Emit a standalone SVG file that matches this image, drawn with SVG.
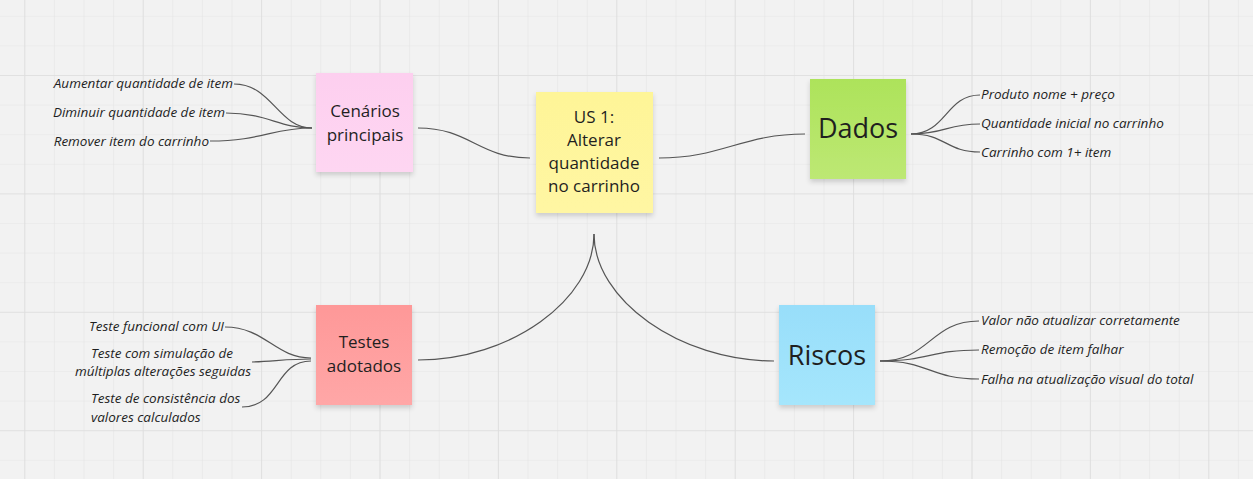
<svg xmlns="http://www.w3.org/2000/svg" width="1253" height="479" viewBox="0 0 1253 479">
<style>
.leaf{font-family:"Open Sans","Noto Sans","DejaVu Sans",sans-serif;font-style:italic;font-size:13.5px;fill:#1f1f1f}
.st{font-family:"Open Sans","Noto Sans","DejaVu Sans",sans-serif;font-size:17px;fill:#1f1f1f;text-anchor:middle}
.big{font-family:"Open Sans","Noto Sans","DejaVu Sans",sans-serif;font-size:27px;fill:#1f1f1f;text-anchor:middle}
.con{fill:none;stroke:#555;stroke-width:1.2}
</style>
<defs>
<pattern id="minor" x="24.3" y="-43.4" width="29.6" height="29.6" patternUnits="userSpaceOnUse">
<path d="M0,0H29.6M0,0V29.6" fill="none" stroke="#e5e5e5" stroke-width="1.2"/>
</pattern>
<pattern id="major" x="24.3" y="-43.4" width="118.4" height="118.4" patternUnits="userSpaceOnUse">
<path d="M0,0H118.4M0,0V118.4" fill="none" stroke="#dedede" stroke-width="1.6"/>
</pattern>
<filter id="sh" x="-20%" y="-20%" width="140%" height="150%">
<feDropShadow dx="0" dy="3" stdDeviation="2.5" flood-color="#000" flood-opacity="0.16"/>
</filter>
<linearGradient id="gPink" x1="0" y1="0" x2="0" y2="1"><stop offset="0" stop-color="#fdcfef"/><stop offset="1" stop-color="#fed6f2"/></linearGradient>
<linearGradient id="gYel" x1="0" y1="0" x2="0" y2="1"><stop offset="0" stop-color="#fef597"/><stop offset="1" stop-color="#fff6a3"/></linearGradient>
<linearGradient id="gGrn" x1="0" y1="0" x2="0" y2="1"><stop offset="0" stop-color="#ade35a"/><stop offset="1" stop-color="#bde874"/></linearGradient>
<linearGradient id="gRed" x1="0" y1="0" x2="0" y2="1"><stop offset="0" stop-color="#fe9898"/><stop offset="1" stop-color="#ffa7a7"/></linearGradient>
<linearGradient id="gBlu" x1="0" y1="0" x2="0" y2="1"><stop offset="0" stop-color="#98defa"/><stop offset="1" stop-color="#a5e6fc"/></linearGradient>
</defs>
<rect width="1253" height="479" fill="#f2f2f2"/>
<rect width="1253" height="479" fill="url(#minor)"/>
<rect width="1253" height="479" fill="url(#major)"/>

<g id="connectors">
<path class="con" d="M418,128 C470,128 478,158 530,158"/>
<path class="con" d="M659,158 C722,158 742,134 805,134"/>
<path class="con" d="M594,234 C594,300 510,360 418,360"/>
<path class="con" d="M594,234 C594,300 680,361 774,361"/>
<path class="con" d="M234,84 C272,84 278,128 312,128"/>
<path class="con" d="M226,113 C268,113 278,128 312,128"/>
<path class="con" d="M210,141 C262,141 272,128 312,128"/>
<path class="con" d="M911,134 C946,134 946,95 980,95"/>
<path class="con" d="M911,134 C946,134 946,124 980,124"/>
<path class="con" d="M911,134 C946,134 946,152 980,152"/>
<path class="con" d="M880,361 C930,361 930,321 979,321"/>
<path class="con" d="M880,361 C930,361 930,350 979,350"/>
<path class="con" d="M880,361 C930,361 930,379 979,379"/>
<path class="con" d="M225,327 C265,327 275,358 311,358"/>
<path class="con" d="M252,362 C275,361 290,359 311,359"/>
<path class="con" d="M242,407 C280,407 275,361 311,361"/>
</g>

<g id="cenarios">
<rect x="316" y="73" width="97" height="99" fill="url(#gPink)" filter="url(#sh)"/>
<text class="st" x="365" y="117">Cenários</text>
<text class="st" x="365" y="141">principais</text>
</g>
<g id="us1">
<rect x="536" y="92" width="117" height="121" fill="url(#gYel)" filter="url(#sh)"/>
<text class="st" x="594" y="123">US 1:</text>
<text class="st" x="594" y="146">Alterar</text>
<text class="st" x="594" y="169">quantidade</text>
<text class="st" x="594" y="192">no carrinho</text>
</g>
<g id="dados">
<rect x="810" y="79" width="96" height="100" fill="url(#gGrn)" filter="url(#sh)"/>
<text class="big" x="858" y="138">Dados</text>
</g>
<g id="testes">
<rect x="316" y="305" width="96" height="100" fill="url(#gRed)" filter="url(#sh)"/>
<text class="st" x="364" y="348">Testes</text>
<text class="st" x="364" y="372">adotados</text>
</g>
<g id="riscos">
<rect x="779" y="305" width="96" height="100" fill="url(#gBlu)" filter="url(#sh)"/>
<text class="big" x="827" y="365">Riscos</text>
</g>

<g id="leaves-cenarios">
<text class="leaf" x="233" y="88" text-anchor="end">Aumentar quantidade de item</text>
<text class="leaf" x="225" y="117" text-anchor="end">Diminuir quantidade de item</text>
<text class="leaf" x="209" y="146" text-anchor="end">Remover item do carrinho</text>
</g>
<g id="leaves-dados">
<text class="leaf" x="981" y="99">Produto nome + preço</text>
<text class="leaf" x="981" y="128">Quantidade inicial no carrinho</text>
<text class="leaf" x="981" y="157">Carrinho com 1+ item</text>
</g>
<g id="leaves-riscos">
<text class="leaf" x="981" y="325">Valor não atualizar corretamente</text>
<text class="leaf" x="981" y="354">Remoção de item falhar</text>
<text class="leaf" x="981" y="384">Falha na atualização visual do total</text>
</g>
<g id="leaves-testes">
<text class="leaf" x="224" y="331" text-anchor="end">Teste funcional com UI</text>
<text class="leaf" x="162" y="358" text-anchor="middle">Teste com simulação de</text>
<text class="leaf" x="163" y="376" text-anchor="middle">múltiplas alterações seguidas</text>
<text class="leaf" x="91" y="403">Teste de consistência dos</text>
<text class="leaf" x="91" y="422">valores calculados</text>
</g>
</svg>
